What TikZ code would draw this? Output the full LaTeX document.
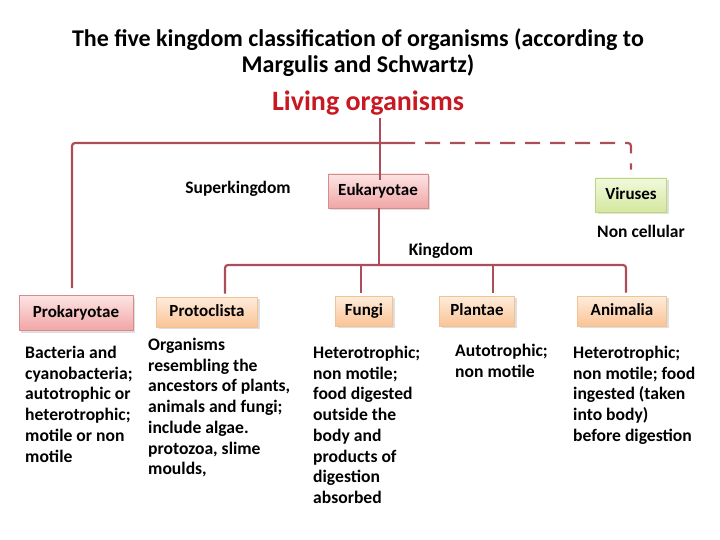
\documentclass[tikz,border=0pt]{standalone}
\usepackage{fontspec}
\setmainfont{Carlito}
\usetikzlibrary{shadows}
\definecolor{linecol}{RGB}{172,78,90}
\definecolor{livred}{RGB}{200,25,35}
\definecolor{pinkbd}{RGB}{214,140,140}
\definecolor{pinktop}{RGB}{253,228,228}
\definecolor{pinkbot}{RGB}{241,165,165}
\definecolor{orbd}{RGB}{240,195,150}
\definecolor{ortop}{RGB}{254,236,220}
\definecolor{orbot}{RGB}{250,196,150}
\definecolor{grbd}{RGB}{190,212,130}
\definecolor{grtop}{RGB}{242,249,222}
\definecolor{grbot}{RGB}{212,232,158}
\tikzset{
  box/.style={draw, line width=0.8pt, minimum height=30pt, inner sep=0pt,
    text height=12.5pt, text depth=3pt,
    font=\fontsize{17}{20}\selectfont\bfseries,
    drop shadow={shadow xshift=2pt, shadow yshift=-2pt, opacity=0.25}},
  pinkbox/.style={box, draw=pinkbd, top color=pinktop, bottom color=pinkbot},
  orbox/.style={box, draw=orbd, top color=ortop, bottom color=orbot},
  grbox/.style={box, draw=grbd, top color=grtop, bottom color=grbot},
  conn/.style={draw=linecol, line width=2.2pt, rounded corners=3pt},
  desc/.style={anchor=north west, inner sep=0pt, align=left,
    font=\fontsize{17.6}{20.7}\selectfont\bfseries},
  lbl/.style={inner sep=0pt, font=\fontsize{17.5}{20}\selectfont\bfseries}
}
\begin{document}
\begin{tikzpicture}[x=1pt,y=-1pt]
\useasboundingbox (0,0) rectangle (720,540);
\node[align=center, font=\fontsize{24}{26}\selectfont\bfseries] (title) at (358,53)
  {The five kingdom classification of organisms (according to\\Margulis and Schwartz)};
\node[text=livred, inner sep=0pt, font=\fontsize{28}{32}\selectfont\bfseries] (living) at (368,103) {Living organisms};

\node[pinkbox, minimum width=100pt, minimum height=34pt] (euk) at (378,191) {Eukaryotae};
\node[grbox, minimum width=71pt, minimum height=34pt] (vir) at (631,195) {Viruses};
\node[pinkbox, minimum width=114pt, minimum height=35pt] (prok) at (76,313) {Prokaryotae};
\node[orbox, minimum width=101pt] (proto) at (207,312) {Protoclista};
\node[orbox, minimum width=57pt] (fungi) at (364,311) {Fungi};
\node[orbox, minimum width=75pt] (plan) at (477,311) {Plantae};
\node[orbox, minimum width=89pt] (anim) at (622,311) {Animalia};

\node[lbl] (super) at (238,189) {Superkingdom};
\node[lbl] (king) at (441,251) {Kingdom};
\node[lbl] (noncell) at (641,231) {Non cellular};

\coordinate (top) at (380,143);
\coordinate (split) at (400,143);
\coordinate (bus) at (379,265);

% connectors
\draw[conn] (living.south -| top) ++(0,3) -- ([yshift=-6pt]euk.north -| top);
\draw[conn, shorten >=7pt] (split) -| ([xshift=-4pt]prok.north);
\draw[conn, dashed, dash pattern=on 15pt off 10pt, shorten >=8pt] (split) -| (vir.north);
\draw[conn] (euk.south -| bus) -- (bus);
\draw[conn, shorten >=3pt] (bus) -| ([xshift=18pt]proto.north);
\draw[conn, shorten >=3pt] (bus) -| ([xshift=4pt]anim.north);
\draw[conn, shorten >=3pt] ([xshift=-3pt]fungi.north |- bus) -- ([xshift=-3pt]fungi.north);
\draw[conn, shorten >=3pt] ([xshift=16pt]plan.north |- bus) -- ([xshift=16pt]plan.north);

\node[desc] (dprok) at (25,346) {Bacteria and\\cyanobacteria;\\autotrophic or\\heterotrophic;\\motile or non\\motile};
\node[desc] (dproto) at (148,338) {Organisms\\resembling the\\ancestors of plants,\\animals and fungi;\\include algae.\\protozoa, slime\\moulds,};
\node[desc] (dfungi) at (313,346) {Heterotrophic;\\non motile;\\food digested\\outside the\\body and\\products of\\digestion\\absorbed};
\node[desc] (dplan) at (455,344) {Autotrophic;\\non motile};
\node[desc] (danim) at (573,346) {Heterotrophic;\\non motile; food\\ingested (taken\\into body)\\before digestion};
\end{tikzpicture}
\end{document}
